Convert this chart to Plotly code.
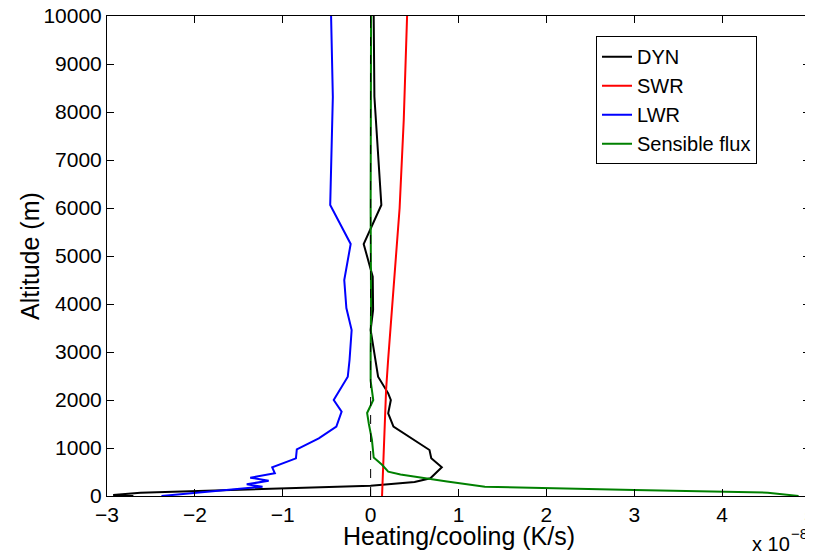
import plotly.graph_objects as go

# Values in units of 1e-8 K/s
dyn_alt = [0, 21, 69, 120, 181, 215, 290, 368, 597, 785, 958, 1444, 1722, 2000, 2139, 2417, 2486, 3458, 3875, 4569, 5250, 6063, 8319, 10000]
dyn_val = [-2.7, -2.93, -2.62, -1.78, -0.8, 0.0, 0.5, 0.68, 0.81, 0.69, 0.67, 0.26, 0.2, 0.23, 0.2, 0.1, 0.085, 0.0, 0.028, 0.024, -0.079, 0.122, 0.043, 0.035]

swr_alt = [0, 1000, 2208, 2833, 4000, 5125, 6000, 7833, 10000]
swr_val = [0.13, 0.15, 0.176, 0.199, 0.245, 0.293, 0.33, 0.377, 0.415]

lwr_alt = [0, 146, 194, 243, 319, 382, 472, 597, 785, 972, 1201, 1444, 1757, 2000, 2208, 2486, 2833, 3458, 3917, 4500, 5250, 6063, 8319, 10000]
lwr_val = [-2.38, -1.45, -1.23, -1.41, -1.16, -1.37, -1.09, -1.12, -0.85, -0.84, -0.59, -0.39, -0.33, -0.42, -0.35, -0.26, -0.24, -0.216, -0.276, -0.3, -0.227, -0.46, -0.43, -0.45]

sens_alt = [0, 69, 125, 194, 300, 390, 450, 507, 650, 800, 1170, 1500, 1730, 2000, 2400, 3000, 4000, 6000, 10000]
sens_val = [4.87, 4.52, 3.0, 1.3, 0.87, 0.53, 0.34, 0.2, 0.13, 0.035, 0.015, -0.02, -0.04, 0.03, 0.0, 0.0, 0.005, 0.0, 0.005]

zero_x = [0, 0]
zero_y = [0, 10000]

x_ticks = [-3, -2, -1, 0, 1, 2, 3, 4, 5]
y_ticks = [0, 1000, 2000, 3000, 4000, 5000, 6000, 7000, 8000, 9000, 10000]

FONT = "Liberation Sans, Arial, Helvetica, sans-serif"

fig = go.Figure()
fig.add_trace(go.Scatter(x=dyn_val, y=dyn_alt, mode="lines", name="DYN",
                         line=dict(color="black", width=2)))
fig.add_trace(go.Scatter(x=swr_val, y=swr_alt, mode="lines", name="SWR",
                         line=dict(color="red", width=2)))
fig.add_trace(go.Scatter(x=lwr_val, y=lwr_alt, mode="lines", name="LWR",
                         line=dict(color="blue", width=2)))
fig.add_trace(go.Scatter(x=sens_val, y=sens_alt, mode="lines", name="Sensible flux",
                         line=dict(color="green", width=2)))
fig.add_trace(go.Scatter(x=zero_x, y=zero_y, mode="lines", showlegend=False,
                         line=dict(color="black", width=1, dash="dash")))

axis_common = dict(
    showgrid=False, zeroline=False, showline=True, linecolor="black", linewidth=1,
    mirror="allticks", ticks="inside", ticklen=7, tickcolor="black", tickwidth=1,
    tickfont=dict(family=FONT, size=21, color="black"), automargin=False,
    ticklabeloverflow="allow",
)

# page body has an 8px margin, so the figure is sized/offset to compensate
fig.update_layout(
    width=805, height=549,
    margin=dict(l=99, r=3, t=8, b=61, autoexpand=False),
    paper_bgcolor="white", plot_bgcolor="white",
    font=dict(family=FONT, color="black"),
    xaxis=dict(range=[-3, 5], tickvals=x_ticks, ticktext=[("\u2212" + str(-v)) if v < 0 else str(v) for v in x_ticks], **axis_common),
    yaxis=dict(range=[0, 10000], tickvals=y_ticks, ticktext=[str(v) for v in y_ticks], **axis_common),
    legend=dict(x=0.6956, y=0.958, xanchor="left", yanchor="top",
                bgcolor="white", bordercolor="black", borderwidth=1,
                font=dict(family=FONT, size=20, color="black")),
    annotations=[
        dict(text="Heating/cooling (K/s)", xref="paper", yref="paper", x=0.5, y=-0.084,
             xanchor="center", yanchor="middle", showarrow=False,
             font=dict(family=FONT, size=25, color="black")),
        dict(text="Altitude (m)", xref="paper", yref="paper", x=-0.1095, y=0.5,
             xanchor="center", yanchor="middle", showarrow=False, textangle=-90,
             font=dict(family=FONT, size=25, color="black")),
        dict(text="x 10", xref="paper", yref="paper", x=0.9147, y=-0.1,
             xanchor="left", yanchor="middle", showarrow=False,
             font=dict(family=FONT, size=20, color="black")),
        dict(text="\u22128", xref="paper", yref="paper", x=0.998, y=-0.0775,
             xanchor="right", yanchor="middle", showarrow=False, borderpad=0,
             font=dict(family=FONT, size=15, color="black")),
    ],
)

fig.write_html("out.html")
